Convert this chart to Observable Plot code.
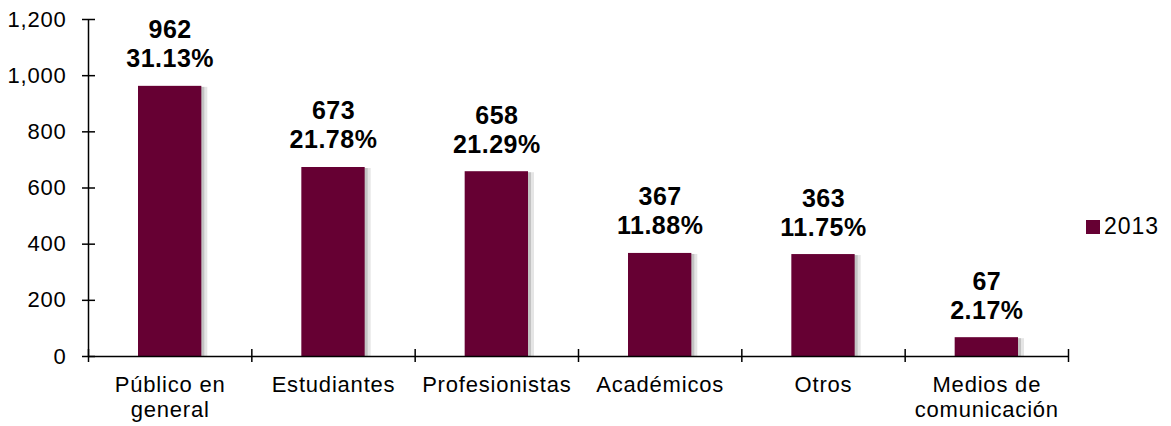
<!DOCTYPE html>
<html>
<head>
<meta charset="utf-8">
<script src="https://cdn.jsdelivr.net/npm/d3@7"></script>
<script src="https://cdn.jsdelivr.net/npm/@observablehq/plot@0.6"></script>
<style>
  html, body { margin: 0; padding: 0; background: #fff; }
  #wrap { position: relative; width: 1171px; height: 426px; font-family: "Liberation Sans", Arial, sans-serif; }
  #wrap svg text { letter-spacing: 0.8px; }
  #wrap svg text.vlabel, #wrap svg g.vlabel text { letter-spacing: 0.5px; }
  #legend { position: absolute; left: 1086px; top: 213px; display: flex; align-items: center; font-size: 23px; letter-spacing: 1px; color: #000; }
  #legend .sw { width: 14px; height: 14px; background: #660033; margin-right: 4px; }
</style>
</head>
<body>
<div id="wrap"></div>
<script>
const categories = ["Público en\ngeneral", "Estudiantes", "Profesionistas", "Académicos", "Otros", "Medios de\ncomunicación"];
const values = [962, 673, 658, 367, 363, 67];
const percents = ["31.13%", "21.78%", "21.29%", "11.88%", "11.75%", "2.17%"];
const yTicks = [0, 200, 400, 600, 800, 1000, 1200];
const seriesName = "2013";

const data = categories.map((c, i) => ({i, cat: c, value: values[i], pct: percents[i]}));
const color = "#660033";

const chart = Plot.plot({
  width: 1171,
  height: 426,
  marginLeft: 88,
  marginRight: 103,
  marginTop: 19,
  marginBottom: 70,
  style: {fontFamily: "'Liberation Sans', Arial, sans-serif", fontSize: "22px", color: "#000", background: "#fff", overflow: "visible"},
  x: {domain: [0, categories.length], axis: null},
  y: {domain: [0, 1200], axis: null},
  marks: [
    // soft shadow
    Plot.rectY(data, {x1: d => d.i, x2: d => d.i + 1, y: "value", insetLeft: 50, insetRight: 50, fill: "#000", fillOpacity: 0.10, dx: 6, dy: 1}),
    Plot.rectY(data, {x1: d => d.i, x2: d => d.i + 1, y: "value", insetLeft: 50, insetRight: 50, fill: "#000", fillOpacity: 0.15, dx: 3, dy: 1}),
    Plot.rectY(data, {x1: d => d.i, x2: d => d.i + 1, y: "value", insetLeft: 50, insetRight: 50, fill: color}),
    Plot.ruleY([0], {stroke: "#000", strokeWidth: 1.5}),
    Plot.ruleX([0], {y1: 0, y2: 1200, stroke: "#000", strokeWidth: 1.5}),
    // y axis: labels + ticks crossing the axis line
    Plot.axisY({ticks: yTicks, label: null, tickSize: 6, tickPadding: 16, tickFormat: d3.format(","), fontSize: 22, stroke: "#000", strokeWidth: 1.5}),
    Plot.axisY({ticks: yTicks, label: null, tickSize: -7, tickFormat: () => "", stroke: "#000", strokeWidth: 1.5}),
    // x ticks at category boundaries, crossing the axis line
    Plot.axisX({ticks: d3.range(categories.length + 1), label: null, tickSize: 6, tickFormat: () => "", stroke: "#000", strokeWidth: 1.5}),
    Plot.axisX({ticks: d3.range(categories.length + 1), label: null, tickSize: -7, tickFormat: () => "", stroke: "#000", strokeWidth: 1.5}),
    // category labels
    Plot.axisX({ticks: d3.range(categories.length).map(i => i + 0.5), label: null, tickSize: 0, tickPadding: 18, tickFormat: t => categories[Math.floor(t)], fontSize: 22, lineHeight: 1.14}),
    // value labels
    Plot.text(data, {x: d => d.i + 0.5, y: "value", text: d => d.value + "\n" + d.pct, lineAnchor: "bottom", dy: -19, fontSize: 25, fontWeight: "bold", lineHeight: 1.16, fill: "#000", className: "vlabel"})
  ]
});

const wrap = document.getElementById("wrap");
wrap.appendChild(chart);
const legend = document.createElement("div");
legend.id = "legend";
legend.innerHTML = `<span class="sw"></span><span>${seriesName}</span>`;
wrap.appendChild(legend);
</script>
</body>
</html>
